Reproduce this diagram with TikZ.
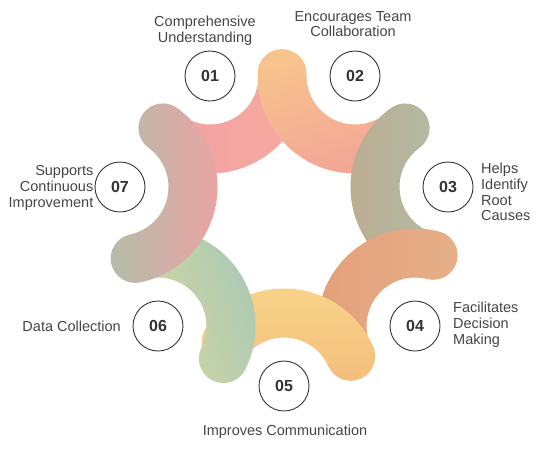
\documentclass[tikz,border=0pt]{standalone}
\usepackage{fontspec}
\setmainfont{Liberation Sans}
\usetikzlibrary{calc}
\definecolor{ink}{HTML}{333333}
\definecolor{labink}{HTML}{454545}
\definecolor{ca1}{HTML}{F2A0A6}\definecolor{cb1}{HTML}{F7AA9E}
\definecolor{ca2}{HTML}{F8C48D}\definecolor{cb2}{HTML}{F2A497}
\definecolor{ca3}{HTML}{BEAA8E}\definecolor{cb3}{HTML}{AFBDA6}
\definecolor{ca4}{HTML}{E3A07A}\definecolor{cb4}{HTML}{E6B089}
\definecolor{ca5}{HTML}{F9D689}\definecolor{cb5}{HTML}{F4BD7D}
\definecolor{ca6}{HTML}{D8D9A0}\definecolor{cb6}{HTML}{A6C8B5}
\definecolor{ca7}{HTML}{B3BDA9}\definecolor{cb7}{HTML}{EEA2A3}
\tikzset{
  numc/.style={circle, draw=ink, line width=0.9pt, minimum size=50pt, inner sep=0pt, fill=white,
    text=ink, font=\bfseries\fontsize{16}{16}\selectfont},
  lab/.style={text=labink, inner sep=0pt, font=\fontsize{14.5}{15.8}\selectfont}
}
\begin{document}
\begin{tikzpicture}[x=1pt,y=1pt]
\useasboundingbox (0,0) rectangle (545,-448);
% bands, drawn 01..07 so each lies over the previous one
% \sp: span of the end lying over the previous band, \sm: span of the end hidden under the next band
\foreach \cx/\cy/\ang/\sa/\sp/\sm [count=\i] in {210/76/-63.1/90/52/52, 355/76/-115.9/15/66/52, 448/187/-168/90/66/52, 415/326/141.6/90/66/52, 284/386/90/0/66/52, 158/326/39.5/110/66/52, 120/187/-12/90/66/66}{
  \pgfmathsetmacro\aone{\ang-\sp}
  \pgfmathsetmacro\atwo{\ang+\sm}
  \pgfmathsetmacro\athree{\atwo+180}
  \pgfmathsetmacro\afour{\aone+180}
  \pgfmathsetmacro\afive{\aone+360}
  \shade[top color=ca\i, bottom color=cb\i, shading angle=\sa]
    ($(\cx,-\cy)+(\aone:97.5)$) arc[start angle=\aone, end angle=\atwo, radius=97.5]
    arc[start angle=\atwo, end angle=\athree, radius=24.5]
    arc[start angle=\atwo, end angle=\aone, radius=48.5]
    arc[start angle=\afour, end angle=\afive, radius=24.5] -- cycle;
}
% number circles
\node[numc] (n1) at (210,-76) {01};
\node[numc] (n2) at (355,-76) {02};
\node[numc] (n3) at (448,-187) {03};
\node[numc] (n4) at (415,-326) {04};
\node[numc] (n5) at (284,-386) {05};
\node[numc] (n6) at (158,-326) {06};
\node[numc] (n7) at (120,-187) {07};
% labels
\node[lab, align=center] (t1) at (205,-31) {Comprehensive\\Understanding};
\node[lab, align=center] (t2) at (353,-24) {Encourages Team\\Collaboration};
\node[lab, align=left, anchor=west] (t3) at (481,-192) {Helps\\Identify\\Root\\Causes};
\node[lab, align=left, anchor=west] (t4) at (453,-325) {Facilitates\\Decision\\Making};
\node[lab] (t5) at (285,-432) {Improves Communication};
\node[lab, anchor=east] (t6) at (121,-326) {Data Collection};
\node[lab, align=right, anchor=east] (t7) at (93.5,-188) {Supports\\Continuous\\Improvement};
\end{tikzpicture}
\end{document}
